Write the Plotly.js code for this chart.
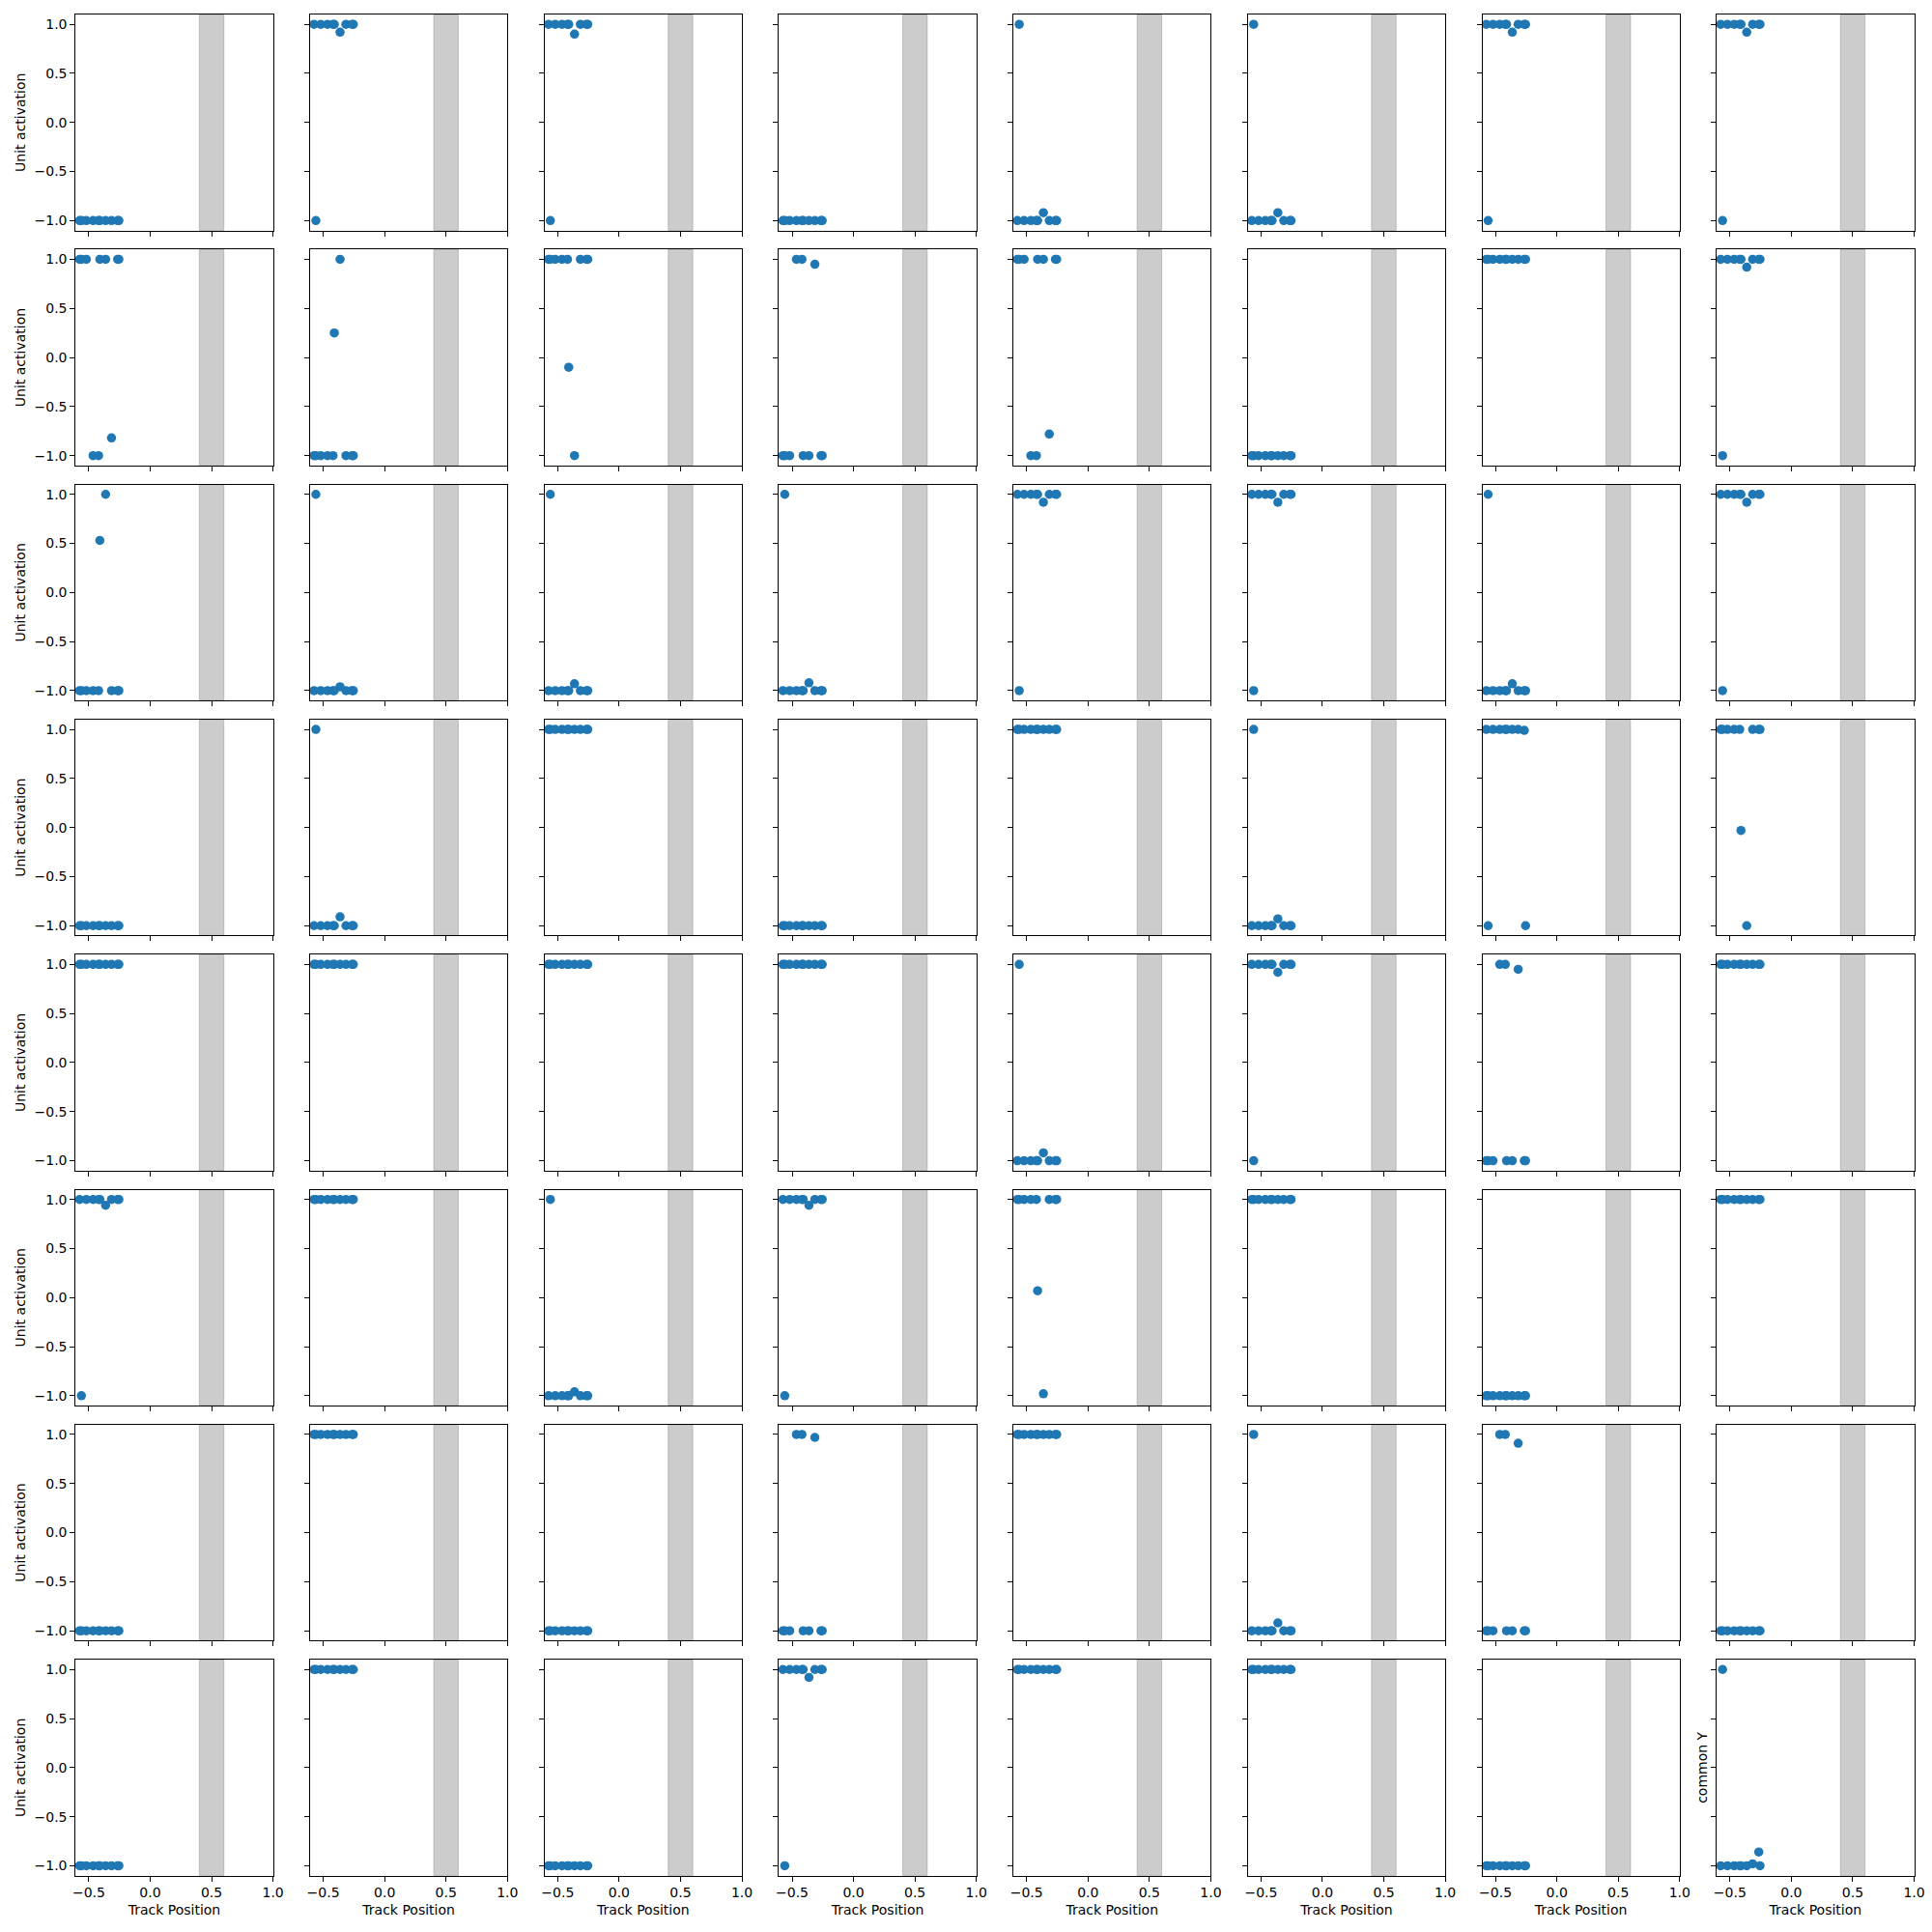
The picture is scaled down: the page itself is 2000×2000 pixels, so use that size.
<!DOCTYPE html>
<html><head><meta charset="utf-8">
<script src="https://cdn.plot.ly/plotly-3.0.1.min.js"></script>
<style>body{margin:0;background:#fff}</style>
</head><body><div id="chart" style="width:2000px;height:2000px"></div>
<script>
const trackPosition = [-0.575, -0.56, -0.52, -0.465, -0.42, -0.41, -0.363, -0.315, -0.265, -0.255];
const highlightBand = [0.4, 0.6];
const xTickVals = [-0.5, 0, 0.5, 1.0];
const xTickText = ["\u22120.5", "0.0", "0.5", "1.0"];
const yTickVals = [-1, -0.5, 0, 0.5, 1];
const yTickText = ["\u22121.0", "\u22120.5", "0.0", "0.5", "1.0"];
const xLabel = "Track Position";
const yLabel = "Unit activation";
const lastYLabel = "common Y";

const activationsRow0 = [
  [-1,-1,-1,-1,-1,-1,-1,-1,-1,-1],
  [1,-1,1,1,1,1,0.92,1,1,1],
  [1,-1,1,1,1,1,0.9,1,1,1],
  [-1,-1,-1,-1,-1,-1,-1,-1,-1,-1],
  [-1,1,-1,-1,-1,-1,-0.92,-1,-1,-1],
  [-1,1,-1,-1,-1,-1,-0.92,-1,-1,-1],
  [1,-1,1,1,1,1,0.92,1,1,1],
  [1,-1,1,1,1,1,0.92,1,1,1]
];
const activationsRow1 = [
  [1,1,1,-1,-1,1,1,-0.82,1,1],
  [-1,-1,-1,-1,-1,0.25,1,-1,-1,-1],
  [1,1,1,1,1,-0.1,-1,1,1,1],
  [-1,-1,-1,1,1,-1,-1,0.95,-1,-1],
  [1,1,1,-1,-1,1,1,-0.78,1,1],
  [-1,-1,-1,-1,-1,-1,-1,-1,-1,-1],
  [1,1,1,1,1,1,1,1,1,1],
  [1,-1,1,1,1,1,0.92,1,1,1]
];
const activationsRow2 = [
  [-1,-1,-1,-1,-1,0.53,1,-1,-1,-1],
  [-1,1,-1,-1,-1,-1,-0.96,-1,-1,-1],
  [-1,1,-1,-1,-1,-1,-0.93,-1,-1,-1],
  [-1,1,-1,-1,-1,-1,-0.92,-1,-1,-1],
  [1,-1,1,1,1,1,0.92,1,1,1],
  [1,-1,1,1,1,1,0.92,1,1,1],
  [-1,1,-1,-1,-1,-1,-0.93,-1,-1,-1],
  [1,-1,1,1,1,1,0.92,1,1,1]
];
const activationsRow3 = [
  [-1,-1,-1,-1,-1,-1,-1,-1,-1,-1],
  [-1,1,-1,-1,-1,-1,-0.91,-1,-1,-1],
  [1,1,1,1,1,1,1,1,1,1],
  [-1,-1,-1,-1,-1,-1,-1,-1,-1,-1],
  [1,1,1,1,1,1,1,1,1,1],
  [-1,1,-1,-1,-1,-1,-0.93,-1,-1,-1],
  [1,-1,1,1,1,1,1,1,0.99,-1],
  [1,1,1,1,1,-0.03,-1,1,1,1]
];
const activationsRow4 = [
  [1,1,1,1,1,1,1,1,1,1],
  [1,1,1,1,1,1,1,1,1,1],
  [1,1,1,1,1,1,1,1,1,1],
  [1,1,1,1,1,1,1,1,1,1],
  [-1,1,-1,-1,-1,-1,-0.92,-1,-1,-1],
  [1,-1,1,1,1,1,0.92,1,1,1],
  [-1,-1,-1,1,1,-1,-1,0.95,-1,-1],
  [1,1,1,1,1,1,1,1,1,1]
];
const activationsRow5 = [
  [1,-1,1,1,1,1,0.94,1,1,1],
  [1,1,1,1,1,1,1,1,1,1],
  [-1,1,-1,-1,-1,-1,-0.96,-1,-1,-1],
  [1,-1,1,1,1,1,0.94,1,1,1],
  [1,1,1,1,1,0.07,-0.98,1,1,1],
  [1,1,1,1,1,1,1,1,1,1],
  [-1,-1,-1,-1,-1,-1,-1,-1,-1,-1],
  [1,1,1,1,1,1,1,1,1,1]
];
const activationsRow6 = [
  [-1,-1,-1,-1,-1,-1,-1,-1,-1,-1],
  [1,1,1,1,1,1,1,1,1,1],
  [-1,-1,-1,-1,-1,-1,-1,-1,-1,-1],
  [-1,-1,-1,1,1,-1,-1,0.97,-1,-1],
  [1,1,1,1,1,1,1,1,1,1],
  [-1,1,-1,-1,-1,-1,-0.92,-1,-1,-1],
  [-1,-1,-1,1,1,-1,-1,0.91,-1,-1],
  [-1,-1,-1,-1,-1,-1,-1,-1,-1,-1]
];
const activationsRow7 = [
  [-1,-1,-1,-1,-1,-1,-1,-1,-1,-1],
  [1,1,1,1,1,1,1,1,1,1],
  [-1,-1,-1,-1,-1,-1,-1,-1,-1,-1],
  [1,-1,1,1,1,1,0.92,1,1,1],
  [1,1,1,1,1,1,1,1,1,1],
  [1,1,1,1,1,1,1,1,1,1],
  [-1,-1,-1,-1,-1,-1,-1,-1,-1,-1],
  [-1,1,-1,-1,-1,-1,-1,-0.98,-0.86,-1]
];

const rows = [activationsRow0, activationsRow1, activationsRow2, activationsRow3,
              activationsRow4, activationsRow5, activationsRow6, activationsRow7];

const W = 2000, H = 2000;
const colLeft0 = 78.3, colPitch = 242.7, colW = 204.3;
const rowTop0 = 15, rowPitch = 243.3, rowH = 223.5;
const font = {family: "DejaVu Sans, Liberation Sans, sans-serif", size: 14, color: "#000"};

const traces = [];
const shapes = [];
const layout = {
  width: W, height: H,
  margin: {l: 0, r: 0, t: 0, b: 0},
  paper_bgcolor: "#fff", plot_bgcolor: "#fff",
  showlegend: false,
  font: font,
  shapes: shapes
};

for (let r = 0; r < 8; r++) {
  for (let c = 0; c < 8; c++) {
    const n = r * 8 + c + 1;
    const sfx = n === 1 ? "" : String(n);
    const xa = "x" + sfx, ya = "y" + sfx;
    traces.push({
      type: "scatter", mode: "markers",
      x: trackPosition, y: rows[r][c],
      xaxis: xa, yaxis: ya,
      marker: {color: "#1f77b4", size: 9.5, line: {width: 0}},
      cliponaxis: false,
      hoverinfo: "x+y"
    });
    const x0 = colLeft0 + c * colPitch, x1 = x0 + colW;
    const top = rowTop0 + r * rowPitch, bot = top + rowH;
    layout["xaxis" + sfx] = {
      domain: [x0 / W, x1 / W], anchor: ya,
      range: [-0.607, 1.0], fixedrange: true,
      showgrid: false, zeroline: false,
      showline: true, mirror: true, linecolor: "#000", linewidth: 1,
      ticks: "outside", ticklen: 5, tickwidth: 1, tickcolor: "#000",
      tickmode: "array", tickvals: xTickVals, ticktext: xTickText,
      showticklabels: r === 7, tickfont: font,
      title: r === 7 ? {text: xLabel, font: font, standoff: 5} : {text: ""}
    };
    let ytitle = {text: ""};
    if (c === 0) ytitle = {text: yLabel, font: font, standoff: 5};
    if (r === 7 && c === 7) ytitle = {text: lastYLabel, font: font, standoff: 0};
    layout["yaxis" + sfx] = {
      domain: [1 - bot / H, 1 - top / H], anchor: xa,
      range: [-1.1, 1.1], fixedrange: true,
      showgrid: false, zeroline: false,
      showline: true, mirror: true, linecolor: "#000", linewidth: 1,
      ticks: "outside", ticklen: 5, tickwidth: 1, tickcolor: "#000",
      tickmode: "array", tickvals: yTickVals, ticktext: yTickText,
      showticklabels: c === 0, tickfont: font,
      title: ytitle
    };
    shapes.push({
      type: "rect", xref: xa, yref: ya + " domain",
      x0: highlightBand[0], x1: highlightBand[1], y0: 0, y1: 1,
      fillcolor: "rgba(128,128,128,0.4)",
      line: {color: "rgba(128,128,128,0.4)", width: 1},
      layer: "below"
    });
  }
}

Plotly.newPlot("chart", traces, layout, {staticPlot: true, displayModeBar: false});
</script>
</body></html>
